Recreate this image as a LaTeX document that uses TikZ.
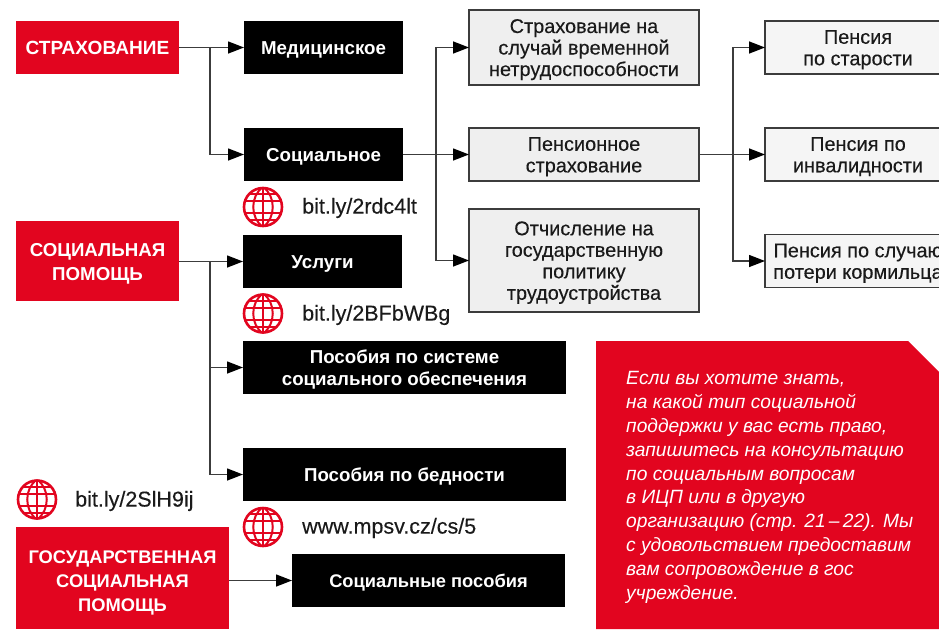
\documentclass[tikz,border=0pt]{standalone}
\usepackage{fontspec}
\setmainfont{Liberation Sans}
\usetikzlibrary{arrows.meta}
\definecolor{redbox}{HTML}{E2051F}
\definecolor{greybox}{HTML}{EFEFEF}
\definecolor{lightbox}{HTML}{F5F5F5}
\definecolor{linegrey}{HTML}{3C3C3C}
\definecolor{urlink}{HTML}{1A1A1A}
\newfontfamily\midfont[FakeBold=0.25]{Liberation Sans}
\newcommand{\dl}[1]{\raisebox{-7pt}[0pt][0pt]{#1}}
\newcommand{\dc}[1]{\raisebox{-7pt}[0pt][0pt]{#1}}
\newcommand{\dg}[1]{\raisebox{-9pt}[0pt][0pt]{#1}}
\tikzset{
  x=1pt,y=-1pt,
  basebox/.style={rectangle,inner sep=0pt,outer sep=0pt,align=center,font=\fontsize{18.7}{22}\selectfont\bfseries},
  redlab/.style={basebox,fill=redbox,text=white,font=\fontsize{18.7}{24}\selectfont\bfseries},
  blacklab/.style={basebox,fill=black,text=white},
  greylab/.style={basebox,fill=greybox,draw=linegrey,line width=1.4pt,text=urlink,font=\midfont\fontsize{19.9}{21.5}\selectfont},
  paleLab/.style={greylab,fill=lightbox},
  urllab/.style={anchor=west,inner sep=0pt,text=urlink,font=\midfont\fontsize{21.5}{24}\selectfont},
  conn/.style={draw=linegrey,line width=1.4pt},
  arr/.style={conn,-{Triangle[black,length=16pt,width=12pt]}},
  globe/.style={circle,minimum size=38pt,inner sep=0pt,draw=redbox,line width=2.6pt},
  globeline/.style={draw=redbox,line width=2pt},
}
\newcommand{\wwwglobe}[3]{%
  \node[globe] (#1) at (#2,#3) {};
  \begin{scope}[shift={(#2,#3)}]
    \clip (0,0) circle (20);
    \draw[globeline] (0,-20) -- (0,20);
    \draw[globeline] (0,-20) .. controls (-13,-11) and (-13,11) .. (0,20);
    \draw[globeline] (0,-20) .. controls (13,-11) and (13,11) .. (0,20);
    \draw[globeline] (-20,-6) -- (20,-6);
    \draw[globeline] (-20,6) -- (20,6);
    \draw[globeline] (-15,-13) -- (15,-13);
    \draw[globeline] (-15,13) -- (15,13);
  \end{scope}%
}
\begin{document}
\begin{tikzpicture}
\useasboundingbox (0,0) rectangle (939,629);
\clip (0,0) rectangle (939,629);
% red boxes
\node[redlab,font=\fontsize{19.1}{24}\selectfont\bfseries,minimum width=163pt,minimum height=53pt] (str) at (97.5,47.5) {\dc{СТРАХОВАНИЕ}};
\node[redlab,minimum width=163pt,minimum height=80pt] (pom) at (97.5,261) {\dc{СОЦИАЛЬНАЯ}\\\dc{ПОМОЩЬ}};
\node[redlab,font=\fontsize{18.3}{24}\selectfont\bfseries,minimum width=213pt,minimum height=102pt] (gos) at (122.5,578) {\dg{ГОСУДАРСТВЕННАЯ}\\\dg{СОЦИАЛЬНАЯ}\\\dg{ПОМОЩЬ}};
% black boxes
\node[blacklab,minimum width=159pt,minimum height=53pt] (med) at (323.5,47.5) {\dl{Медицинское}};
\node[blacklab,minimum width=159pt,minimum height=53pt] (soc) at (323.5,154.5) {\dl{Социальное}};
\node[blacklab,minimum width=159pt,minimum height=53pt] (usl) at (322.5,261.5) {\dl{Услуги}};
\node[blacklab,minimum width=323pt,minimum height=53pt] (sys) at (404.5,367.5) {\dl{Пособия по системе}\\\dl{социального обеспечения}};
\node[blacklab,minimum width=323pt,minimum height=53pt] (bed) at (404.5,474.5) {\dl{Пособия по бедности}};
\node[blacklab,font=\fontsize{18.3}{22}\selectfont\bfseries,minimum width=273pt,minimum height=53pt] (spo) at (428.5,580.5) {\dl{Социальные пособия}};
% grey boxes
\node[greylab,minimum width=230pt,minimum height=75pt] (vrem) at (584,47.5) {\dl{Страхование на}\\\dl{случай временной}\\\dl{нетрудоспособности}};
\node[greylab,minimum width=230pt,minimum height=53pt] (pens) at (584,154.5) {\dl{Пенсионное}\\\dl{страхование}};
\node[greylab,minimum width=230pt,minimum height=103pt] (otch) at (584,260.5) {\dl{Отчисление на}\\\dl{государственную}\\\dl{политику}\\\dl{трудоустройства}};
% pale boxes
\node[paleLab,minimum width=186pt,minimum height=53pt] (star) at (858,47.5) {\dl{Пенсия}\\\dl{по старости}};
\node[paleLab,minimum width=186pt,minimum height=53pt] (inv) at (858,154.5) {\dl{Пенсия по}\\\dl{инвалидности}};
\node[paleLab,minimum width=186pt,minimum height=53pt] (korm) at (858,261) {\dl{Пенсия по случаю}\\\dl{потери кормильца}};
% connectors
\coordinate (b1) at (210,47.5);
\coordinate (b2) at (436,154.5);
\coordinate (b3) at (733,154.5);
\coordinate (b4) at (210,261.5);
\draw[arr] (str.east |- b1) -- (med.west |- b1);
\draw[arr] (b1) |- (soc.west);
\draw[arr] (soc.east) -- (pens.west);
\draw[arr] (b2) |- (vrem.west);
\draw[arr] (b2) |- (otch.west);
\draw[arr] (pens.east) -- (inv.west);
\draw[arr] (b3) |- (star.west);
\draw[arr] (b3) |- (korm.west);
\draw[arr] (pom.east |- b4) -- (usl.west);
\draw[arr] (b4) |- (sys.west);
\draw[arr] (b4) |- (bed.west);
\draw[arr] (gos.east |- spo) -- (spo.west);
% globes and links
\wwwglobe{g1}{263}{207}
\wwwglobe{g2}{263}{313.5}
\wwwglobe{g3}{37}{499.5}
\wwwglobe{g4}{263}{527}
\node[urllab] (u1) at (302,208) {bit.ly/2rdc4lt};
\node[urllab] (u2) at (302,315) {bit.ly/2BFbWBg};
\node[urllab] (u3) at (75,501) {bit.ly/2SlH9ij};
\node[urllab] (u4) at (302,528) {www.mpsv.cz/cs/5};
% note
\fill[redbox] (596,341) -- (908,341) -- (939,372) -- (939,629) -- (596,629) -- cycle;
\node[anchor=north west,inner sep=0pt,text=white,align=left,font=\fontsize{19.2}{23.9}\selectfont\itshape] (note) at (626,371) {Если вы хотите знать,\\на какой тип социальной\\поддержки у вас есть право,\\запишитесь на консультацию\\по социальным вопросам\\в ИЦП или в другую\\организацию (стр. 21\,–\,22). Мы\\с удовольствием предоставим\\вам сопровождение в гос\\учреждение.};
\end{tikzpicture}
\end{document}
